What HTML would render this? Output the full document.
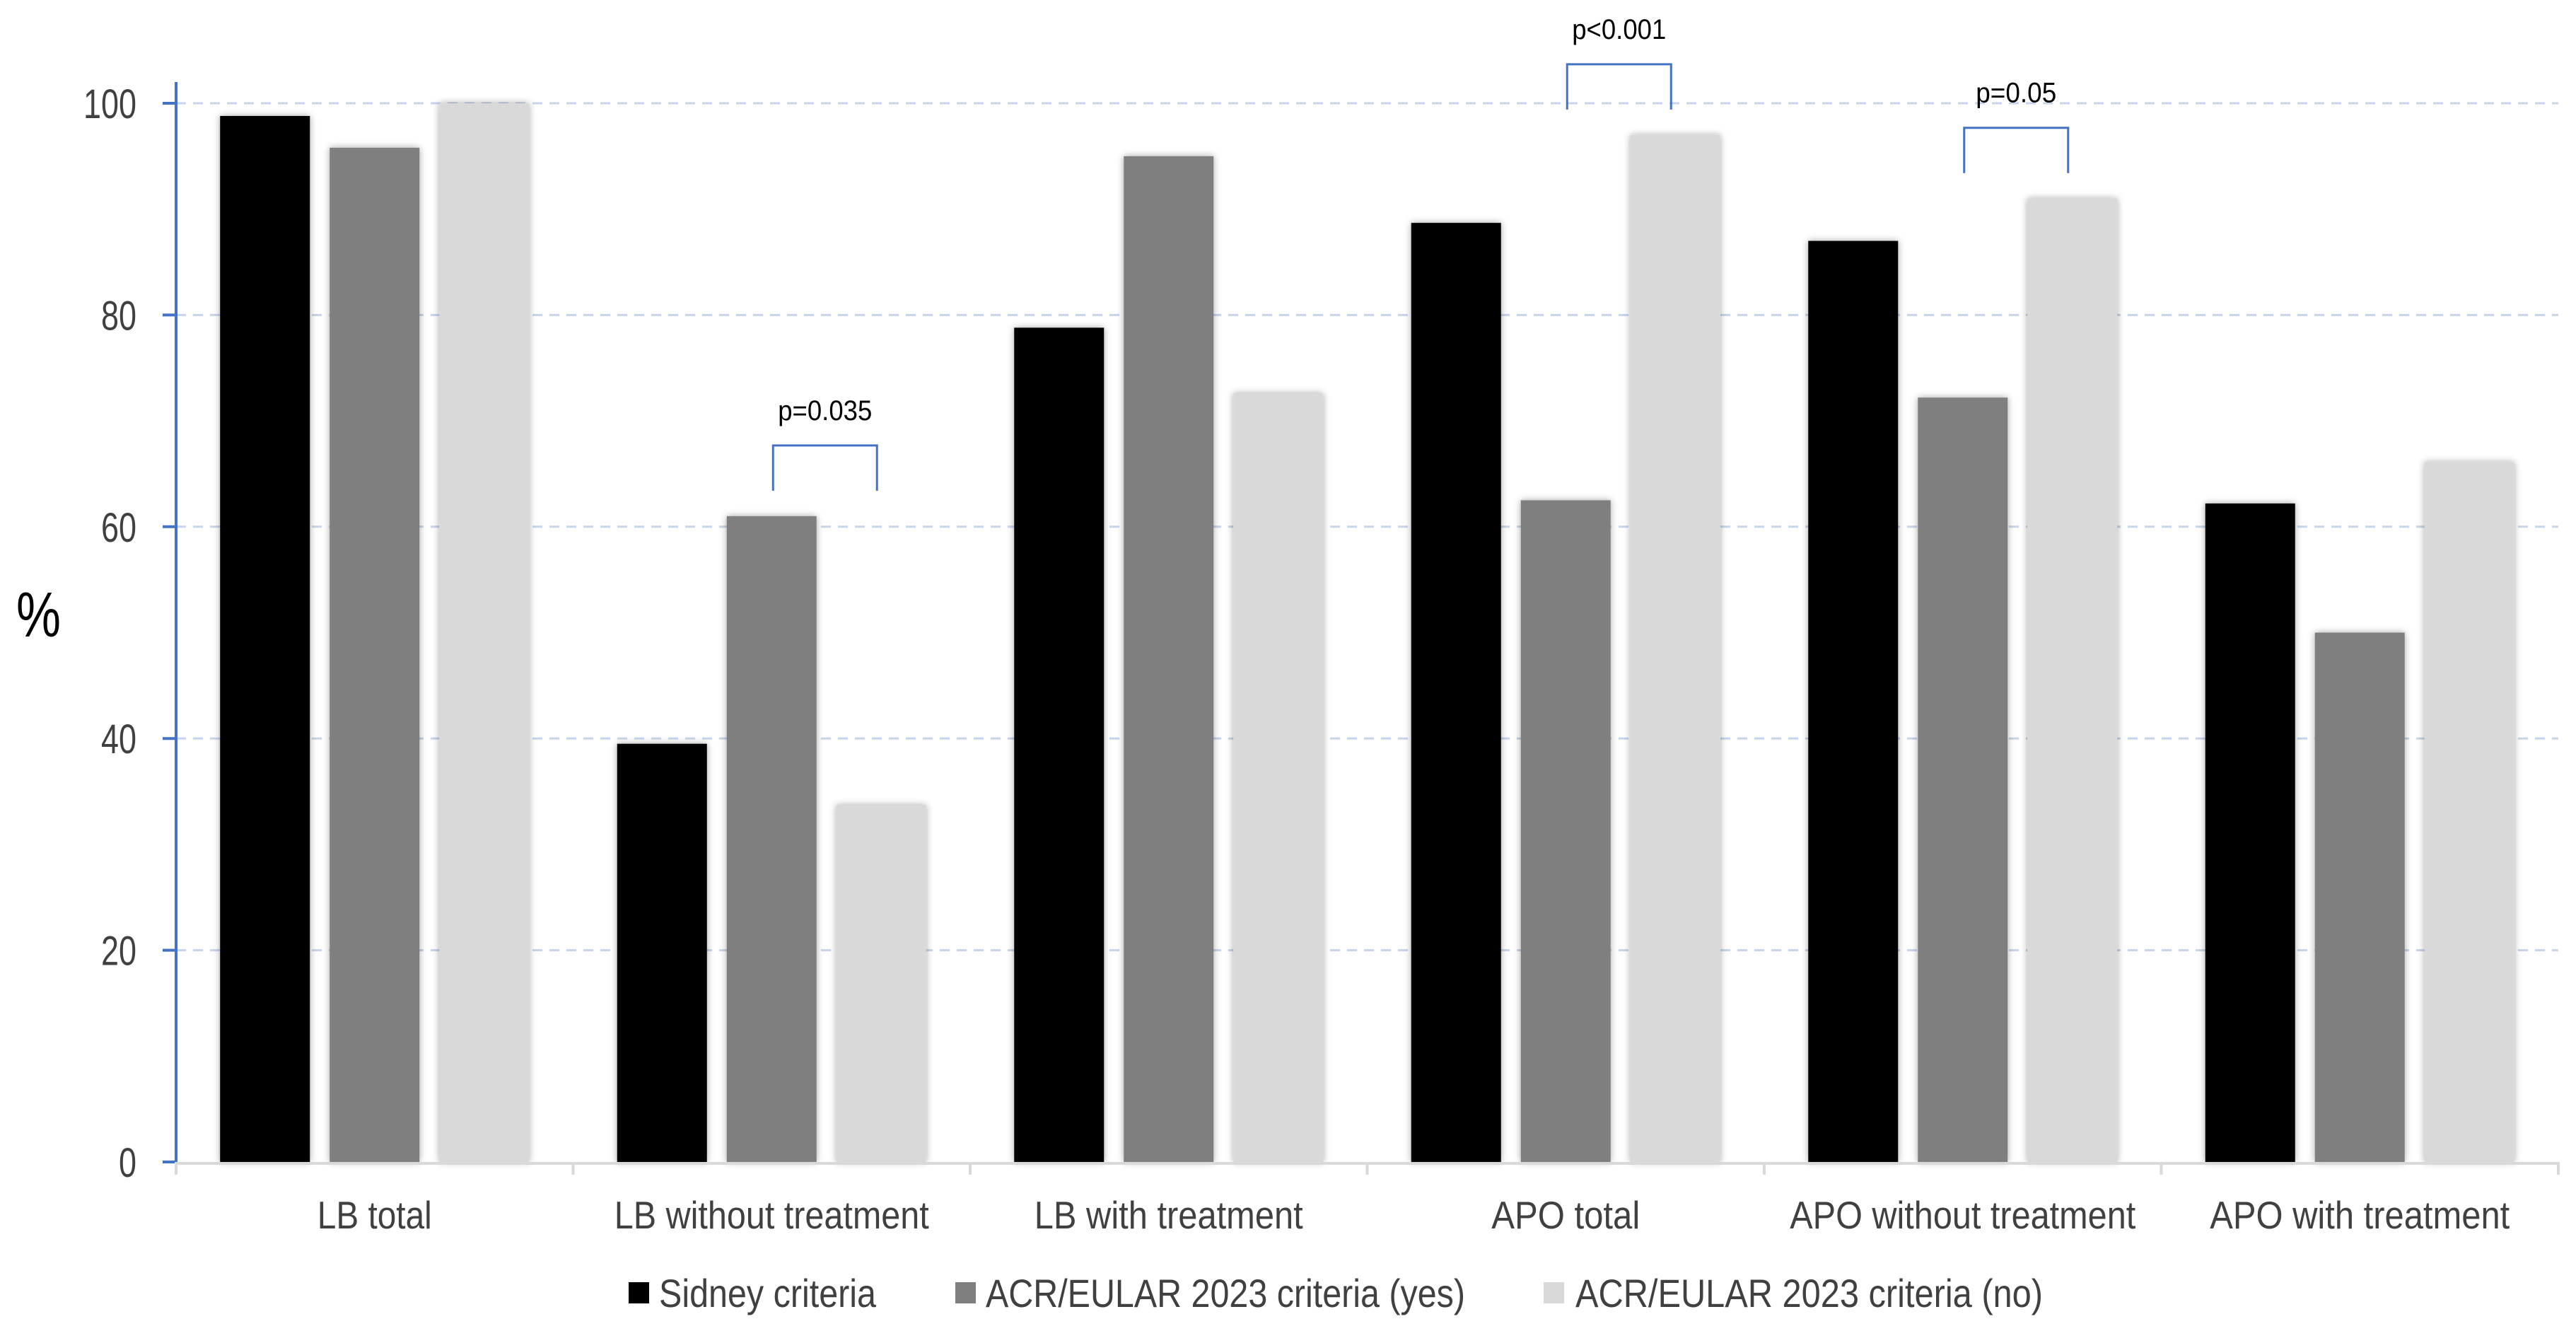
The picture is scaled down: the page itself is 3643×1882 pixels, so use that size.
<!DOCTYPE html>
<html><head><meta charset="utf-8"><style>
html,body{margin:0;padding:0;background:#fff;}
svg{display:block;font-family:"Liberation Sans",Arial,sans-serif;}
</style></head><body>
<svg id="chart" width="3643" height="1882" viewBox="0 0 3643 1882" xmlns="http://www.w3.org/2000/svg">
<defs>
<filter id="sh" x="-20%" y="-5%" width="140%" height="110%"><feDropShadow dx="0" dy="0" stdDeviation="5" flood-color="#000" flood-opacity="0.35"/></filter>
</defs>
<g id="grid"></g>
<g id="bars"></g>
<g id="axes"></g>
<text x="23" y="900" font-size="90" fill="#000" textLength="63" lengthAdjust="spacingAndGlyphs">%</text>
<g id="legend">
  <g><rect x="889" y="1813" width="29" height="30" fill="#000"/><text x="932" y="1848" font-size="56" fill="#404040" textLength="307" lengthAdjust="spacingAndGlyphs">Sidney criteria</text></g>
  <g><rect x="1351" y="1813" width="29" height="30" fill="#7f7f7f"/><text x="1394" y="1848" font-size="56" fill="#404040" textLength="678" lengthAdjust="spacingAndGlyphs">ACR/EULAR 2023 criteria (yes)</text></g>
  <g><rect x="2183" y="1813" width="29" height="30" fill="#d9d9d9"/><text x="2228" y="1848" font-size="56" fill="#404040" textLength="661" lengthAdjust="spacingAndGlyphs">ACR/EULAR 2023 criteria (no)</text></g>
</g>
<g id="annot"></g>
</svg>
<script>
const categories = ["LB total","LB without treatment","LB with treatment","APO total","APO without treatment","APO with treatment"];
const sidney = [98.8, 39.5, 78.8, 88.7, 87.0, 62.2];
const acrYes = [95.8, 61.0, 95.0, 62.5, 72.2, 50.0];
const acrNo = [100.0, 33.7, 72.6, 97.0, 91.0, 66.1];
const yTicks = [0, 20, 40, 60, 80, 100];
const pLabels = ["p=0.035", "p<0.001", "p=0.05"];
const pCats = [1, 3, 4];

const NS = "http://www.w3.org/2000/svg";
const X0 = 249, X1 = 3618, Y0 = 1643, Y100 = 146;
const catW = (X1 - X0) / categories.length;
const yS = v => Y0 - (v / 100) * (Y0 - Y100);
const xC = i => X0 + catW * (i + 0.5);
const BW = 127, STEP = 155;
function mk(tag, attrs, parent) { const e = document.createElementNS(NS, tag); for (const k in attrs) e.setAttribute(k, attrs[k]); parent.appendChild(e); return e; }

const grid = document.getElementById('grid');
const axes = document.getElementById('axes');
const catLabelW = [162, 445, 380, 210, 489, 424];
yTicks.forEach(t => {
  const y = yS(t);
  if (t > 0) {
    const g = mk('line', {x1: X0, x2: X1, y1: y, y2: y, stroke: '#c6d4ec', 'stroke-width': 3, 'stroke-dasharray': '14 10'}, grid);
    
    
  }
  const tk = mk('line', {x1: 230, x2: X0, y1: y, y2: y, stroke: '#4472c4', 'stroke-width': 4}, axes);
  
  
  const lb = mk('text', {x: 193, y: y + 21, 'font-size': 58, fill: '#404040', 'text-anchor': 'end', textLength: String(t).length * 25, lengthAdjust: 'spacingAndGlyphs'}, axes);
  lb.textContent = t;
  
  
});
const xa = mk('line', {x1: X0, x2: X1, y1: Y0 + 2, y2: Y0 + 2, stroke: '#d9d9d9', 'stroke-width': 4}, axes);


const ya = mk('line', {x1: X0, x2: X0, y1: 116, y2: Y0 + 2, stroke: '#4472c4', 'stroke-width': 4}, axes);


for (let i = 0; i <= categories.length; i++) {
  const x = X0 + catW * i;
  const tk = mk('line', {x1: x, x2: x, y1: Y0, y2: Y0 + 18, stroke: '#d9d9d9', 'stroke-width': 4}, axes);
  
  
}
categories.forEach((c, i) => {
  const t = mk('text', {x: xC(i), y: 1737, 'font-size': 55, fill: '#404040', 'text-anchor': 'middle', textLength: catLabelW[i], lengthAdjust: 'spacingAndGlyphs'}, axes);
  t.textContent = c;
  
  
});

const bars = document.getElementById('bars');
const series = [[sidney, '#000000', 'sidney'], [acrYes, '#7f7f7f', 'acr-yes'], [acrNo, '#d9d9d9', 'acr-no']];
series.forEach(([vals, col, nm], s) => {
  vals.forEach((v, i) => {
    const cx = xC(i) + (s - 1) * STEP;
    const r = mk('rect', {x: cx - BW / 2, y: yS(v), width: BW, height: Y0 - yS(v), fill: col, filter: 'url(#sh)'}, bars);
    
    
  });
});

const annot = document.getElementById('annot');
pCats.forEach((ci, k) => {
  const x1 = xC(ci) + 2, x2 = xC(ci) + STEP - 6;
  const top = Math.max(acrYes[ci], acrNo[ci]);
  const yb = yS(top) - 36, yt = yb - 64;
  const p = mk('polyline', {points: `${x1},${yb} ${x1},${yt} ${x2},${yt} ${x2},${yb}`, fill: 'none', stroke: '#4472c4', 'stroke-width': 3}, annot);
  
  
  const t = mk('text', {x: (x1 + x2) / 2, y: yt - 36, 'font-size': 40, fill: '#000', 'text-anchor': 'middle', textLength: pLabels[k].length * 19, lengthAdjust: 'spacingAndGlyphs'}, annot);
  t.textContent = pLabels[k];
  
  
});
</script>
</body></html>
